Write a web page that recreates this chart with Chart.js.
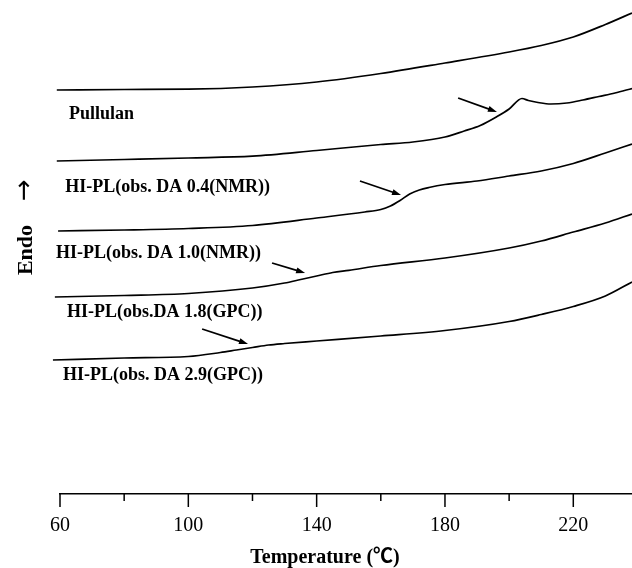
<!DOCTYPE html>
<html>
<head>
<meta charset="utf-8">
<script src="https://cdn.jsdelivr.net/npm/chart.js@4.4.1/dist/chart.umd.min.js"></script>
<style>
  html, body { margin: 0; padding: 0; background: #fff; }
  #wrap { width: 632px; height: 568px; }
</style>
</head>
<body>
<div id="wrap"><canvas id="dsc" width="632" height="568"></canvas></div>
<script>
// DSC traces: temperature (degC) vs heat flow (arbitrary units, curves offset)
const pullulanTemp = [59, 80, 100, 120, 140, 160, 180, 200, 210, 220, 230, 238.3];
const pullulanHeat = [40.4, 40.45, 40.48, 40.7, 41.2, 42.05, 43.1, 44.2, 44.85, 45.7, 46.95, 48.1];

const da04Temp = [59, 80, 100, 120, 140, 160, 170, 180, 186, 191, 196, 200, 204, 206, 209, 213, 218, 223, 228, 233, 238.3];
const da04Heat = [33.3, 33.45, 33.6, 33.78, 34.35, 34.95, 35.2, 35.7, 36.3, 36.85, 37.7, 38.5, 39.55, 39.35, 39.15, 39.0, 39.1, 39.4, 39.75, 40.1, 40.55];

const da10Temp = [59.4, 80, 100, 120, 140, 155, 160, 163, 166, 169, 172, 175, 180, 190, 200, 210, 220, 230, 238.3];
const da10Heat = [26.3, 26.4, 26.55, 26.85, 27.6, 28.2, 28.45, 28.8, 29.35, 30.0, 30.4, 30.65, 30.95, 31.3, 31.8, 32.3, 33.05, 34.1, 35.0];

const da18Temp = [58.4, 80, 100, 120, 130, 135, 140, 145, 150, 160, 180, 200, 210, 220, 230, 238.3];
const da18Heat = [19.7, 19.85, 20.05, 20.6, 21.1, 21.45, 21.8, 22.15, 22.37, 22.85, 23.6, 24.6, 25.3, 26.2, 27.1, 28.0];

const da29Temp = [57.8, 80, 100, 110, 115, 120, 125, 130, 140, 160, 180, 200, 210, 220, 230, 238.3];
const da29Heat = [13.4, 13.6, 13.75, 14.15, 14.4, 14.65, 14.9, 15.05, 15.3, 15.8, 16.35, 17.25, 17.95, 18.75, 19.8, 21.2];

const sampleNames = ['Pullulan', 'HI-PL(obs. DA 0.4(NMR))', 'HI-PL(obs. DA 1.0(NMR))', 'HI-PL(obs.DA 1.8(GPC))', 'HI-PL(obs. DA 2.9(GPC))'];
const labelTemp = [62.8, 61.6, 58.75, 62.2, 60.9];
const labelHeat = [37.5, 30.2, 23.65, 17.7, 11.4];

// arrows marking the transitions
const arrowFromTemp = [184.1, 153.5, 126.1, 104.3];
const arrowFromHeat = [39.6, 31.3, 23.1, 16.5];
const arrowToTemp = [196.2, 166.3, 136.4, 118.6];
const arrowToHeat = [38.2, 29.9, 22.1, 15.0];

const tempTicks = [60, 80, 100, 120, 140, 160, 180, 200, 220];
const labeledTemps = [60, 100, 140, 180, 220];

const serif = '"Liberation Serif", "Times New Roman", serif';

function toPoints(temps, heats) {
    return temps.map((t, i) => ({ x: t, y: heats[i] }));
}

const curves = [
    [pullulanTemp, pullulanHeat],
    [da04Temp, da04Heat],
    [da10Temp, da10Heat],
    [da18Temp, da18Heat],
    [da29Temp, da29Heat]
];

// ticks, arrows and all the free text
const overlay = {
    id: 'overlay',
    afterDraw(chart) {
        const { ctx, chartArea } = chart;
        const x = chart.scales.x;
        const y = chart.scales.y;
        ctx.save();
        ctx.strokeStyle = '#000';
        ctx.fillStyle = '#000';

        // tick marks hang below the axis, long ones carry labels
        ctx.lineWidth = 1.5;
        tempTicks.forEach(v => {
            const px = x.getPixelForValue(v);
            const len = labeledTemps.includes(v) ? 13 : 7;
            ctx.beginPath();
            ctx.moveTo(px, chartArea.bottom);
            ctx.lineTo(px, chartArea.bottom + len);
            ctx.stroke();
        });

        // arrows
        ctx.lineWidth = 1.8;
        arrowFromTemp.forEach((t, i) => {
            const x1 = x.getPixelForValue(t), y1 = y.getPixelForValue(arrowFromHeat[i]);
            const x2 = x.getPixelForValue(arrowToTemp[i]), y2 = y.getPixelForValue(arrowToHeat[i]);
            const ang = Math.atan2(y2 - y1, x2 - x1);
            const head = 9, half = 3;
            ctx.beginPath();
            ctx.moveTo(x1, y1);
            ctx.lineTo(x2 - Math.cos(ang) * head * 0.6, y2 - Math.sin(ang) * head * 0.6);
            ctx.stroke();
            ctx.beginPath();
            ctx.moveTo(x2, y2);
            ctx.lineTo(x2 - Math.cos(ang) * head - Math.sin(ang) * half, y2 - Math.sin(ang) * head + Math.cos(ang) * half);
            ctx.lineTo(x2 - Math.cos(ang) * head + Math.sin(ang) * half, y2 - Math.sin(ang) * head - Math.cos(ang) * half);
            ctx.closePath();
            ctx.fill();
        });

        // sample labels
        ctx.font = 'bold 18px ' + serif;
        ctx.textAlign = 'left';
        ctx.textBaseline = 'alphabetic';
        sampleNames.forEach((name, i) => {
            ctx.fillText(name, x.getPixelForValue(labelTemp[i]), y.getPixelForValue(labelHeat[i]));
        });

        // x axis title
        ctx.font = 'bold 20px "Liberation Serif", "Noto Sans CJK SC", serif';
        ctx.textAlign = 'center';
        ctx.fillText('Temperature (\u2103)', 325, 563);

        // y axis title, rotated
        ctx.save();
        ctx.translate(32, 250);
        ctx.rotate(-Math.PI / 2);
        ctx.font = 'bold 22px ' + serif;
        ctx.textAlign = 'center';
        ctx.fillText('Endo', 0, 0);
        ctx.font = '26px "DejaVu Sans", sans-serif';
        ctx.fillText('\u2192', 60, 0);
        ctx.restore();

        ctx.restore();
    }
};

new Chart(document.getElementById('dsc'), {
    type: 'line',
    data: {
        datasets: curves.map(([t, h], i) => ({
            label: sampleNames[i],
            data: toPoints(t, h),
            borderColor: '#000',
            borderWidth: 1.7,
            pointRadius: 0,
            cubicInterpolationMode: 'monotone',
            fill: false,
            clip: false
        }))
    },
    options: {
        responsive: false,
        animation: false,
        devicePixelRatio: 1,
        layout: { padding: { left: 60, right: 0, top: 0, bottom: 0 } },
        plugins: {
            legend: { display: false },
            tooltip: { enabled: false }
        },
        scales: {
            x: {
                type: 'linear',
                position: 'bottom',
                min: 60,
                max: 238.3,
                afterBuildTicks: s => { s.ticks = tempTicks.map(v => ({ value: v })); },
                afterFit: s => { s.height = 74; },
                ticks: {
                    autoSkip: false,
                    maxRotation: 0,
                    padding: 20,
                    color: '#000',
                    font: { family: serif, size: 20 },
                    callback: v => labeledTemps.includes(v) ? String(v) : ''
                },
                grid: { drawOnChartArea: false, drawTicks: false, color: '#000' },
                border: { display: true, color: '#000', width: 1.5 }
            },
            y: {
                display: false,
                min: 0,
                max: 49.4
            }
        }
    },
    plugins: [overlay]
});
</script>
</body>
</html>
